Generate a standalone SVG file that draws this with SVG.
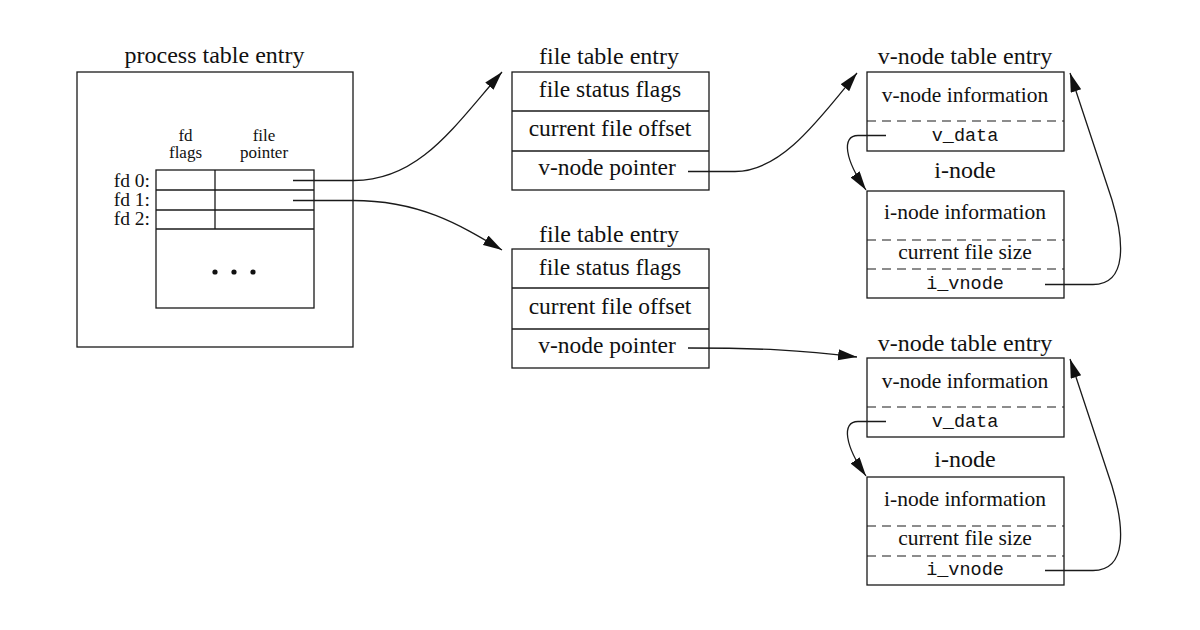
<svg xmlns="http://www.w3.org/2000/svg" width="1200" height="630" viewBox="0 0 1200 630">
<defs>
<style>
.box{fill:none;stroke:#1a1a1a;stroke-width:1.3}
.ln{fill:none;stroke:#1a1a1a;stroke-width:1.3}
.dash{fill:none;stroke:#1a1a1a;stroke-width:1.2;stroke-dasharray:9 6}
.conn{fill:none;stroke:#1a1a1a;stroke-width:1.3}
.t{font-family:"Liberation Serif","Times New Roman",serif;fill:#111;text-anchor:middle}
.title{font-size:24px}
.lab{font-size:23.5px}
.info{font-size:21.5px}
.fd{font-size:17px}
.fdl{font-size:19.5px;text-anchor:end}
.mono{font-family:"Liberation Mono","Courier New",monospace;font-size:18.5px;fill:#111;text-anchor:middle}
</style>
<marker id="ah" markerUnits="userSpaceOnUse" markerWidth="20" markerHeight="12" refX="19" refY="5.5" orient="auto">
<path d="M0,0 L19,5.5 L0,11 z" fill="#111"/>
</marker>
</defs>
<rect width="1200" height="630" fill="#fff"/>

<g id="process-table">
<text class="t title" x="214.5" y="63">process table entry</text>
<rect class="box" x="77" y="72" width="276" height="275"/>
<text class="t fd" x="185.5" y="141">fd</text>
<text class="t fd" x="185.5" y="158">flags</text>
<text class="t fd" x="264" y="141">file</text>
<text class="t fd" x="264" y="158">pointer</text>
<rect class="box" x="156" y="170" width="158" height="138"/>
<line class="ln" x1="156" y1="190" x2="314" y2="190"/>
<line class="ln" x1="156" y1="210" x2="314" y2="210"/>
<line class="ln" x1="156" y1="229" x2="314" y2="229"/>
<line class="ln" x1="215" y1="170" x2="215" y2="229"/>
<text class="t fdl" x="150" y="187">fd 0:</text>
<text class="t fdl" x="150" y="206">fd 1:</text>
<text class="t fdl" x="150" y="225">fd 2:</text>
<circle cx="215" cy="272" r="2.6" fill="#111"/>
<circle cx="234" cy="272" r="2.6" fill="#111"/>
<circle cx="253" cy="272" r="2.6" fill="#111"/>
</g>

<g id="file-table-1">
<text class="t title" x="609" y="64">file table entry</text>
<rect class="box" x="512" y="72" width="197" height="118"/>
<line class="ln" x1="512" y1="111" x2="709" y2="111"/>
<line class="ln" x1="512" y1="151" x2="709" y2="151"/>
<text class="t lab" x="610" y="97">file status flags</text>
<text class="t lab" x="610" y="136">current file offset</text>
<text class="t lab" x="607" y="175">v-node pointer</text>
</g>

<g id="file-table-2">
<text class="t title" x="609" y="242">file table entry</text>
<rect class="box" x="512" y="249" width="197" height="119"/>
<line class="ln" x1="512" y1="288" x2="709" y2="288"/>
<line class="ln" x1="512" y1="329" x2="709" y2="329"/>
<text class="t lab" x="610" y="275">file status flags</text>
<text class="t lab" x="610" y="314">current file offset</text>
<text class="t lab" x="607" y="353">v-node pointer</text>
</g>

<g id="vnode-1">
<text class="t title" x="965" y="64">v-node table entry</text>
<rect class="box" x="867" y="72" width="197" height="79"/>
<line class="dash" x1="867" y1="121" x2="1064" y2="121"/>
<text class="t info" x="965" y="102">v-node information</text>
<text class="mono" x="965" y="141">v_data</text>
</g>

<g id="inode-1">
<text class="t title" x="965" y="178">i-node</text>
<rect class="box" x="867" y="191" width="197" height="107"/>
<line class="dash" x1="867" y1="240" x2="1064" y2="240"/>
<line class="dash" x1="867" y1="269" x2="1064" y2="269"/>
<text class="t info" x="965" y="219">i-node information</text>
<text class="t info" x="965" y="259">current file size</text>
<text class="mono" x="965" y="289">i_vnode</text>
</g>

<g id="vnode-2">
<text class="t title" x="965" y="351">v-node table entry</text>
<rect class="box" x="867" y="358" width="197" height="79"/>
<line class="dash" x1="867" y1="407" x2="1064" y2="407"/>
<text class="t info" x="965" y="388">v-node information</text>
<text class="mono" x="965" y="427">v_data</text>
</g>

<g id="inode-2">
<text class="t title" x="965" y="467">i-node</text>
<rect class="box" x="867" y="477" width="197" height="108"/>
<line class="dash" x1="867" y1="526" x2="1064" y2="526"/>
<line class="dash" x1="867" y1="556" x2="1064" y2="556"/>
<text class="t info" x="965" y="506">i-node information</text>
<text class="t info" x="965" y="545">current file size</text>
<text class="mono" x="965" y="575">i_vnode</text>
</g>

<g id="connectors">
<path class="conn" marker-end="url(#ah)" d="M293,180.5 L354,180.5 C420,180.5 455,125 502,72"/>
<path class="conn" marker-end="url(#ah)" d="M293,200.5 L353,200.5 C420,200.5 460,225 502,250"/>
<path class="conn" marker-end="url(#ah)" d="M688,171.5 L735,171.5 C782,171.5 820,118 857,73"/>
<path class="conn" marker-end="url(#ah)" d="M688,348 C760,348 800,350 857,357"/>
<path class="conn" marker-end="url(#ah)" d="M886,135.5 L858,135.5 C841,135.5 845,160 866,190"/>
<path class="conn" marker-end="url(#ah)" d="M886,421.5 L858,421.5 C841,421.5 845,446 866,476"/>
<path class="conn" marker-end="url(#ah)" d="M1045,284.5 L1093,284.5 C1128,284.5 1124,240 1112,200 L1070,73"/>
<path class="conn" marker-end="url(#ah)" d="M1045,570.5 L1093,570.5 C1128,570.5 1124,526 1112,486 L1070,359"/>
</g>
</svg>
